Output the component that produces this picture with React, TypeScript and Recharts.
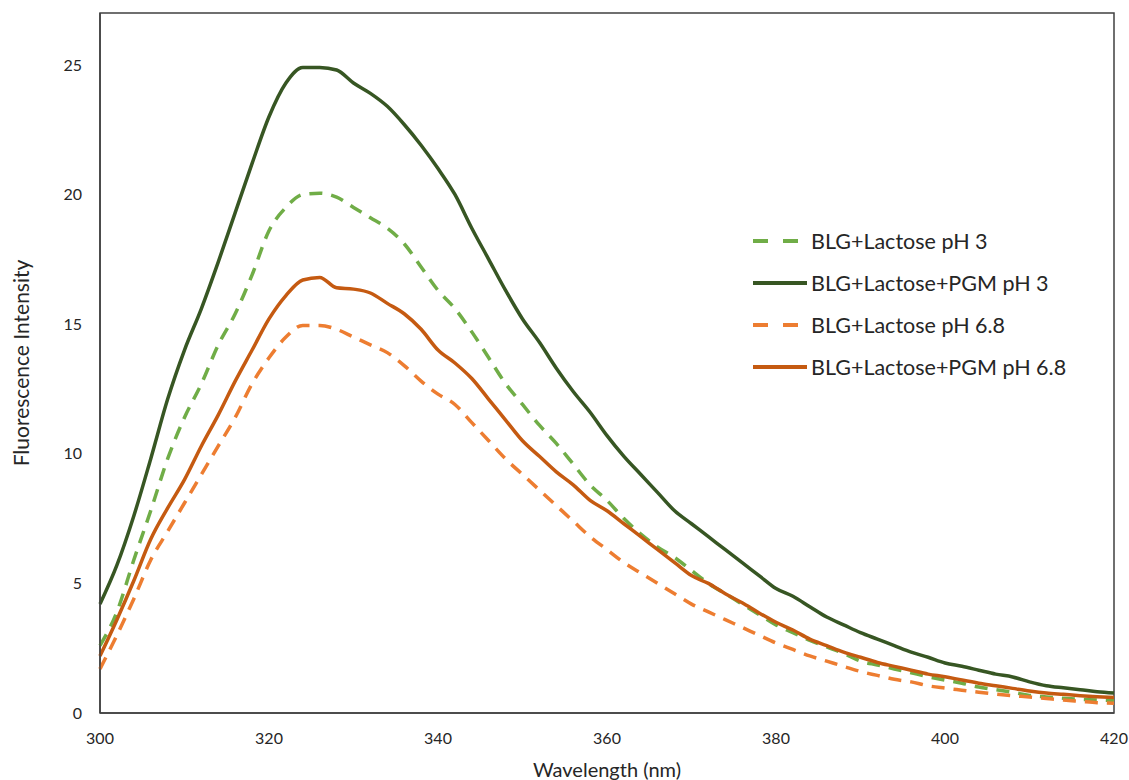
import React from 'react';
import { LineChart, Line, XAxis, YAxis, ReferenceArea, Legend, Label } from 'recharts';

const wavelengths = [
  300, 302, 304, 306, 308, 310, 312, 314, 316, 318, 320, 322, 324, 326, 328, 330, 332, 334, 336, 338,
  340, 342, 344, 346, 348, 350, 352, 354, 356, 358, 360, 362, 364, 366, 368, 370, 372, 374, 376, 378,
  380, 382, 384, 386, 388, 390, 392, 394, 396, 398, 400, 402, 404, 406, 408, 410, 412, 414, 416, 418, 420,
];

const lactosePh3 = [
  2.6, 3.9, 5.9, 7.8, 9.8, 11.4, 12.7, 14.2, 15.4, 16.9, 18.6, 19.5, 20.0, 20.05, 19.9, 19.5, 19.1, 18.7, 18.1, 17.2,
  16.3, 15.6, 14.7, 13.7, 12.7, 11.9, 11.1, 10.4, 9.6, 8.8, 8.2, 7.5, 6.9, 6.4, 6.0, 5.5, 5.0, 4.6, 4.2, 3.8,
  3.4, 3.1, 2.8, 2.55, 2.3, 2.0, 1.85, 1.7, 1.55, 1.4, 1.27, 1.15, 1.0, 0.9, 0.8, 0.68, 0.62, 0.57, 0.53, 0.5, 0.48,
];

const lactosePgmPh3 = [
  4.2, 5.7, 7.6, 9.8, 12.1, 14.0, 15.6, 17.4, 19.3, 21.2, 23.0, 24.3, 24.9, 24.9, 24.8, 24.3, 23.9, 23.4, 22.7, 21.9,
  21.0, 20.0, 18.7, 17.5, 16.3, 15.2, 14.3, 13.3, 12.4, 11.6, 10.7, 9.9, 9.2, 8.5, 7.8, 7.3, 6.8, 6.3, 5.8, 5.3,
  4.8, 4.5, 4.1, 3.7, 3.4, 3.1, 2.85, 2.6, 2.35, 2.15, 1.93, 1.8, 1.65, 1.5, 1.39, 1.2, 1.05, 0.97, 0.9, 0.82, 0.77,
];

const lactosePh68 = [
  1.7, 3.0, 4.4, 5.9, 7.0, 8.1, 9.2, 10.3, 11.4, 12.7, 13.7, 14.5, 14.95, 14.95, 14.8, 14.5, 14.2, 13.9, 13.4, 12.8,
  12.3, 11.9, 11.2, 10.5, 9.8, 9.2, 8.6, 8.0, 7.4, 6.8, 6.3, 5.8, 5.4, 5.0, 4.6, 4.2, 3.9, 3.6, 3.3, 3.0,
  2.7, 2.45, 2.2, 2.0, 1.8, 1.6, 1.45, 1.3, 1.2, 1.05, 0.96, 0.88, 0.8, 0.73, 0.67, 0.62, 0.56, 0.5, 0.45, 0.4, 0.38,
];

const lactosePgmPh68 = [
  2.2, 3.6, 5.1, 6.7, 7.9, 9.0, 10.3, 11.5, 12.8, 14.0, 15.2, 16.1, 16.7, 16.8, 16.4, 16.35, 16.2, 15.8, 15.4, 14.8,
  14.0, 13.5, 12.9, 12.1, 11.3, 10.5, 9.9, 9.3, 8.8, 8.2, 7.8, 7.3, 6.8, 6.3, 5.8, 5.3, 5.0, 4.6, 4.25, 3.86,
  3.5, 3.2, 2.85, 2.6, 2.35, 2.15, 1.95, 1.8, 1.65, 1.5, 1.4, 1.27, 1.15, 1.05, 0.95, 0.85, 0.77, 0.72, 0.67, 0.63, 0.6,
];

const xTicks = [300, 320, 340, 360, 380, 400, 420];
const yTicks = [0, 5, 10, 15, 20, 25];

const seriesNames = [
  'BLG+Lactose pH 3',
  'BLG+Lactose+PGM pH 3',
  'BLG+Lactose pH 6.8',
  'BLG+Lactose+PGM pH 6.8',
];

const data = wavelengths.map((w, i) => ({
  wavelength: w,
  s0: lactosePh3[i],
  s1: lactosePgmPh3[i],
  s2: lactosePh68[i],
  s3: lactosePgmPh68[i],
}));

const seriesStyle = [
  { key: 's0', color: '#70AD47', dash: '13 9' },
  { key: 's1', color: '#375623', dash: undefined },
  { key: 's2', color: '#ED7D31', dash: '13 9' },
  { key: 's3', color: '#C55A11', dash: undefined },
];

const FONT = 'Lato, "Open Sans", sans-serif';

const LegendContent = () => (
  <svg width={380} height={170} style={{ display: 'block' }}>
    {seriesNames.map((name, i) => {
      const y = 19 + i * 42;
      const st = seriesStyle[i];
      return (
        <g key={name}>
          {st.dash ? (
            <>
              <line x1={8} x2={23} y1={y} y2={y} stroke={st.color} strokeWidth={4} />
              <line x1={38} x2={53} y1={y} y2={y} stroke={st.color} strokeWidth={4} />
            </>
          ) : (
            <line x1={8} x2={62} y1={y} y2={y} stroke={st.color} strokeWidth={4} />
          )}
          <text x={66} y={y + 7.5} fontSize={21.5} fill="#262626" fontFamily={FONT}>
            {name}
          </text>
        </g>
      );
    })}
  </svg>
);

export default function App() {
  return (
    <div style={{ position: 'absolute', left: 0, top: 0, background: '#fff' }}>
      <LineChart
        width={1129}
        height={780}
        data={data}
        margin={{ top: 13, right: 15, bottom: 0, left: 0 }}
      >
        <XAxis
          dataKey="wavelength"
          type="number"
          domain={[300, 420]}
          ticks={xTicks}
          height={67}
          tickLine={false}
          axisLine={{ stroke: '#404040', strokeWidth: 1.5 }}
          tick={{ fill: '#262626', fontSize: 16, fontFamily: FONT }}
          tickMargin={14}
        >
          <Label
            content={({ viewBox }: any) => (
              <text
                x={viewBox.x + viewBox.width / 2}
                y={viewBox.y + 64}
                textAnchor="middle"
                fontSize={20}
                fill="#262626"
                fontFamily={FONT}
              >
                Wavelength (nm)
              </text>
            )}
          />
        </XAxis>
        <YAxis
          type="number"
          domain={[0, 27]}
          ticks={yTicks}
          width={100}
          tickLine={false}
          axisLine={{ stroke: '#404040', strokeWidth: 1.5 }}
          tick={{ fill: '#262626', fontSize: 16, fontFamily: FONT }}
          tickMargin={12}
        >
          <Label
            content={({ viewBox }: any) => {
              const cx = 29;
              const cy = viewBox.y + viewBox.height / 2;
              return (
                <text
                  x={cx}
                  y={cy}
                  transform={`rotate(-90 ${cx} ${cy})`}
                  textAnchor="middle"
                  fontSize={21}
                  fill="#262626"
                  fontFamily={FONT}
                >
                  Fluorescence Intensity
                </text>
              );
            }}
          />
        </YAxis>
        <ReferenceArea
          x1={300}
          x2={420}
          y1={0}
          y2={27}
          fill="none"
          stroke="#404040"
          strokeWidth={1.5}
          ifOverflow="visible"
        />
        {seriesStyle.map((st, i) => (
          <Line
            key={st.key}
            dataKey={st.key}
            name={seriesNames[i]}
            type="monotone"
            stroke={st.color}
            strokeWidth={3.5}
            strokeDasharray={st.dash}
            dot={false}
            activeDot={false}
            isAnimationActive={false}
          />
        ))}
        <Legend
          layout="horizontal"
          verticalAlign="middle"
          align="center"
          content={<LegendContent />}
          wrapperStyle={{ left: 745, top: 222, width: 380, height: 170 }}
        />
      </LineChart>
    </div>
  );
}
